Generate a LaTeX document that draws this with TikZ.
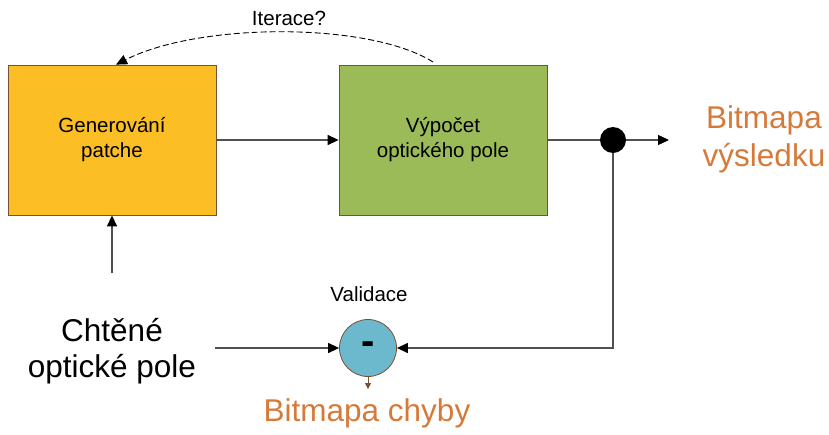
\documentclass[tikz,border=0pt]{standalone}
\usepackage{fontspec}
\setmainfont{Liberation Sans}
\usetikzlibrary{arrows.meta}
\definecolor{boxyellow}{RGB}{251,190,36}
\definecolor{boxgreen}{RGB}{155,187,89}
\definecolor{edgebrown}{RGB}{120,80,50}
\definecolor{validblue}{RGB}{108,184,204}
\definecolor{labelorange}{RGB}{214,122,58}
\definecolor{wiregray}{RGB}{80,80,80}
\tikzset{
  x=1pt, y=-1pt,
  tip/.tip={Triangle[length=11pt,width=10pt,color=black]},
  block/.style={draw=edgebrown, line width=0.8pt, minimum width=208pt, minimum height=150pt,
    align=center, font=\fontsize{20.5}{25}\selectfont, inner sep=0pt},
  wire/.style={draw=wiregray, line width=1.3pt, -tip},
  bigtext/.style={align=center, font=\fontsize{31.5}{36}\selectfont},
  smalltext/.style={font=\fontsize{20.5}{25}\selectfont},
}
\begin{document}
\begin{tikzpicture}
\useasboundingbox (0,0) rectangle (829,434);
% processing blocks
\node[block, fill=boxyellow] (gen) at (112,140) {Generování\\patche};
\node[block, fill=boxgreen] (calc) at (443,140) {Výpočet\\optického pole};
% branch point and outputs
\coordinate (branch) at (613,140);
\coordinate (outend) at (669,140);
\node[bigtext, text=labelorange, font=\fontsize{31.5}{38}\selectfont] (result) at (764,139) {Bitmapa\\výsledku};
% validation node
\node[circle, draw=edgebrown, line width=0.8pt, fill=validblue, minimum size=57pt, inner sep=0pt,
  font=\fontsize{40}{40}\selectfont\bfseries] (val) at (368,348) {-};
\node[smalltext] (vallabel) at (369,294) {Validace};
\node[bigtext, text=labelorange] (err) at (367,413) {Bitmapa chyby};
\coordinate (errtip) at (368,389);
% desired field input
\node[bigtext] (want) at (112,351) {Chtěné\\optické pole};
\coordinate (wantup) at (112,273);
\coordinate (wantright) at (215,348);
\coordinate (corner) at (613,348);
% connectors
\draw[wire] (gen.east) -- (calc.west);
\draw[draw=wiregray, line width=1.3pt] (calc.east) -- (branch);
\draw[wire] (branch) -- (outend);
\draw[wire] (wantup) -- (gen.south);
\draw[wire] (wantright) -- (val.west);
\draw[wire] (branch) -- (corner) -- (val.east);
\draw[draw=edgebrown, line width=0.8pt, -{Triangle[length=6pt,width=6pt]}] (val.south) -- (errtip);
\node[circle, fill=black, minimum size=26pt, inner sep=0pt] (dot) at (branch) {};
% iteration feedback
\coordinate (itstart) at (433,62);
\draw[dash pattern=on 6pt off 3pt, line width=0.9pt, -{Triangle[length=11pt,width=10pt]}]
  (itstart) .. controls (370,22) and (200,22) .. (gen.north -| 116,0);
\node[smalltext] (itlabel) at (289,18) {Iterace?};
\end{tikzpicture}
\end{document}
